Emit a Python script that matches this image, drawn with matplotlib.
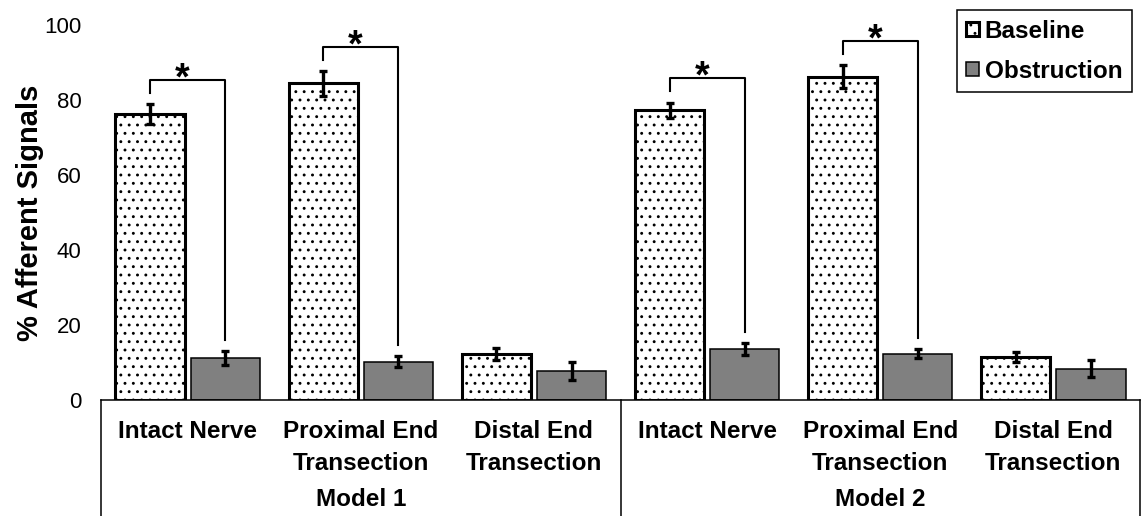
import numpy as np
import matplotlib.pyplot as plt
import matplotlib.transforms as mtransforms

plt.rcParams['font.family'] = ['Liberation Sans', 'DejaVu Sans']
plt.rcParams['hatch.linewidth'] = 0.9

# afferent signal percentages, Model 1 then Model 2
conditions_line1 = ['Intact Nerve', 'Proximal End', 'Distal End'] * 2
conditions_line2 = ['', 'Transection', 'Transection'] * 2
models = ['Model 1', 'Model 2']

baseline = [76.3, 84.4, 12.3, 77.2, 86.2, 11.5]
baseline_err = [2.6, 3.3, 1.5, 2.1, 3.1, 1.4]
obstruction = [11.2, 10.2, 7.8, 13.6, 12.3, 8.4]
obstruction_err = [1.8, 1.5, 2.4, 1.5, 1.2, 2.3]

# groups with a significant baseline vs obstruction difference
significant = [0, 1, 3, 4]

x = np.arange(len(baseline))
width = 0.4
off = 0.217

fig = plt.figure(figsize=(11.44, 5.16), dpi=100)
ax = fig.add_axes([0.0883, 0.2248, 0.9082, 0.7268])

ax.bar(x - off, baseline, width, color='white', edgecolor='black',
       linewidth=2.2, hatch='..', label='Baseline', zorder=2)
ax.bar(x + off, obstruction, width, color='#808080', edgecolor='black',
       linewidth=1.1, label='Obstruction', zorder=2)
ax.errorbar(x - off, baseline, yerr=baseline_err, fmt='none', ecolor='black',
            elinewidth=2.4, capsize=3, capthick=2.4, zorder=3)
ax.errorbar(x + off, obstruction, yerr=obstruction_err, fmt='none', ecolor='black',
            elinewidth=2.4, capsize=3, capthick=2.4, zorder=3)

# significance brackets
for i in significant:
    left_end = baseline[i] + baseline_err[i] + 3
    top = left_end + 3.5
    right_end = obstruction[i] + obstruction_err[i] + 3
    ax.plot([x[i] - off, x[i] - off, x[i] + off, x[i] + off],
            [left_end, top, top, right_end], color='black', lw=1.5, zorder=3)
    ax.text(x[i] - 0.03, top - 2.6, '*', ha='center', va='baseline',
            fontsize=27, fontweight='bold')

ax.set_xlim(-0.5, 5.5)
ax.set_ylim(0, 100)
ax.set_yticks(range(0, 101, 20))
ax.set_xticks([])
ax.tick_params(axis='y', length=0, pad=14, labelsize=16)
for side in ['left', 'right', 'top']:
    ax.spines[side].set_visible(False)
ax.spines['bottom'].set_linewidth(1.1)
ax.set_ylabel('% Afferent Signals', fontsize=21, fontweight='bold', labelpad=0)

# category box below the axis
trans = mtransforms.blended_transform_factory(ax.transData, fig.transFigure)
for xv in [-0.5, 2.5, 5.5]:
    ax.plot([xv, xv], [0.2248, -0.1], transform=trans, color='black',
            lw=1.1, clip_on=False)
for i in x:
    ax.text(i, 1 - 432 / 516, conditions_line1[i], transform=trans,
            ha='center', va='center', fontsize=17.5, fontweight='bold')
    ax.text(i, 1 - 464 / 516, conditions_line2[i], transform=trans,
            ha='center', va='center', fontsize=17.5, fontweight='bold')
for m, label in enumerate(models):
    ax.text(1 + 3 * m, 1 - 500 / 516, label, transform=trans,
            ha='center', va='center', fontsize=17.5, fontweight='bold')

leg = ax.legend(loc='upper right', bbox_to_anchor=(0.9923, 1.04), borderaxespad=0,
                fancybox=False, edgecolor='black', framealpha=1,
                prop={'size': 17.5, 'weight': 'bold'}, handlelength=0.5,
                handleheight=0.5, handletextpad=0.25, labelspacing=0.7,
                borderpad=0.4)
leg.get_frame().set_linewidth(1.1)

fig.savefig('out.png', dpi=100)
